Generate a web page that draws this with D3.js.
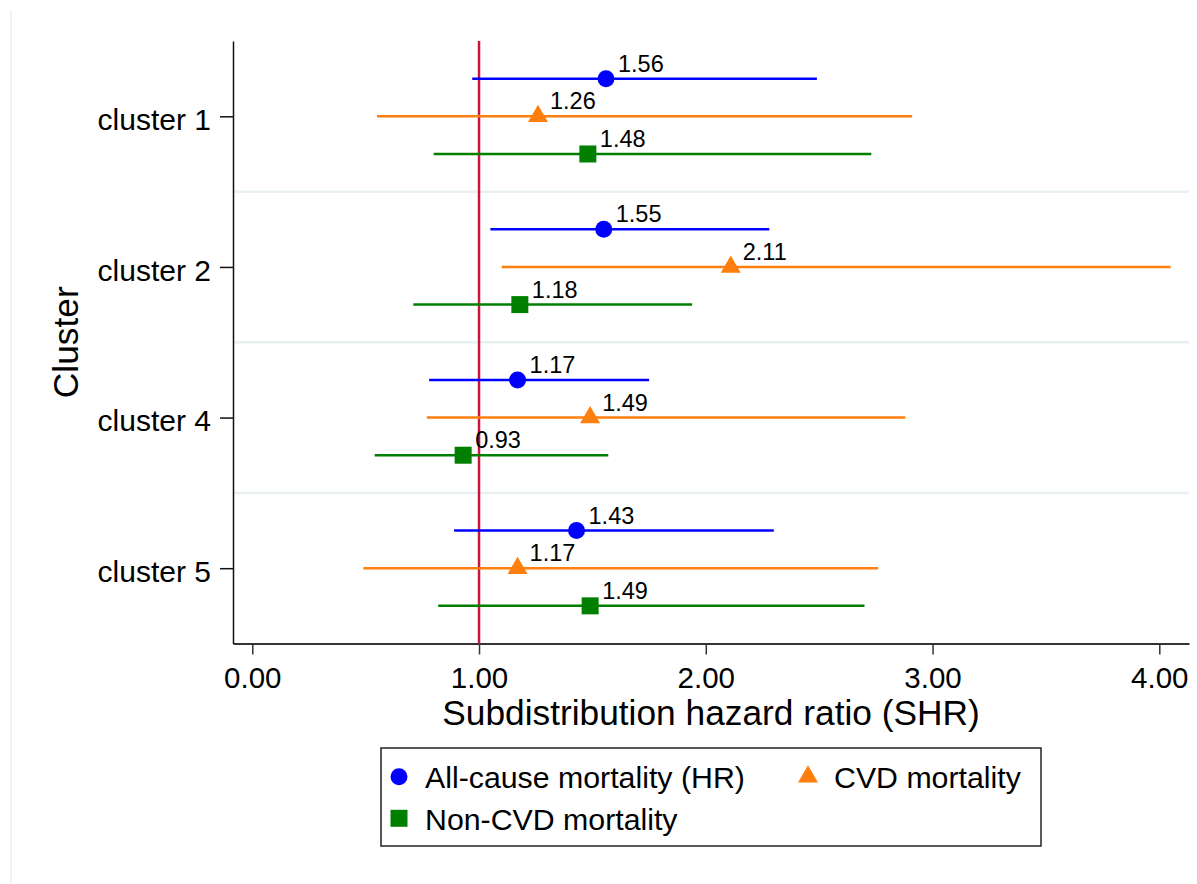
<!DOCTYPE html>
<html>
<head>
<meta charset="utf-8">
<script src="https://cdn.jsdelivr.net/npm/d3@7"></script>
<style>
  html, body { margin: 0; padding: 0; background: #fff; }
  svg { display: block; font-family: "Liberation Sans", Arial, sans-serif; }
</style>
</head>
<body>
<svg id="chart" width="1197" height="884"></svg>
<script>
// data
var clusters = ['cluster 1', 'cluster 2', 'cluster 4', 'cluster 5'];
var seriesNames = ['All-cause mortality (HR)', 'CVD mortality', 'Non-CVD mortality'];

var allCauseHR = [1.56, 1.55, 1.17, 1.43];
var allCauseLo = [0.97, 1.05, 0.78, 0.89];
var allCauseHi = [2.49, 2.28, 1.75, 2.30];

var cvdHR = [1.26, 2.11, 1.49, 1.17];
var cvdLo = [0.55, 1.10, 0.77, 0.49];
var cvdHi = [2.91, 4.05, 2.88, 2.76];

var nonCvdHR = [1.48, 1.18, 0.93, 1.49];
var nonCvdLo = [0.80, 0.71, 0.54, 0.82];
var nonCvdHi = [2.73, 1.94, 1.57, 2.70];

var xTicks = [0, 1, 2, 3, 4];
var refValue = 1;

// styles
var colors = ['#0000ff', '#ff7f0e', '#007f00'];
var symbols = [d3.symbolCircle, d3.symbolTriangle, d3.symbolSquare];
var symSizes = [227, 173, 289];

var series = [
  { name: seriesNames[0], hr: allCauseHR, lo: allCauseLo, hi: allCauseHi },
  { name: seriesNames[1], hr: cvdHR, lo: cvdLo, hi: cvdHi },
  { name: seriesNames[2], hr: nonCvdHR, lo: nonCvdLo, hi: nonCvdHi }
];

var rows = [];
clusters.forEach(function(c, ci) {
  series.forEach(function(s, si) {
    rows.push({ cluster: ci, s: si, hr: s.hr[ci], lo: s.lo[ci], hi: s.hi[ci], slot: ci * 4 + si + 1 });
  });
});

var plot = { left: 233, right: 1189, top: 41, bottom: 643.5 };

var x = d3.scaleLinear()
  .domain([-0.085, 4.131])
  .range([plot.left, plot.right]);

var y = d3.scaleLinear()
  .domain([0, clusters.length * 4])
  .range([plot.top, plot.bottom]);

var svg = d3.select('#chart');

// faint outer frame edge
svg.append('line')
  .attr('x1', 11).attr('x2', 11).attr('y1', 10).attr('y2', 884)
  .attr('stroke', '#eaf1f3').attr('stroke-width', 1.5);

// separators between clusters
svg.append('g').selectAll('line')
  .data(d3.range(1, clusters.length))
  .enter().append('line')
  .attr('x1', plot.left).attr('x2', plot.right)
  .attr('y1', function(d) { return y(d * 4); })
  .attr('y2', function(d) { return y(d * 4); })
  .attr('stroke', '#e9f0f2').attr('stroke-width', 2.5);

// x axis
var xAxis = d3.axisBottom(x)
  .tickValues(xTicks)
  .tickFormat(d3.format('.2f'))
  .tickSize(11)
  .tickSizeOuter(0)
  .tickPadding(13);

var gx = svg.append('g')
  .attr('transform', 'translate(0,' + plot.bottom + ')')
  .call(xAxis);
gx.select('.domain').attr('stroke', '#333').attr('stroke-width', 2);
gx.selectAll('.tick line').attr('stroke', '#333').attr('stroke-width', 1.5);
gx.selectAll('.tick text').attr('font-size', 29.5).attr('fill', '#000')
  .attr('font-family', '"Liberation Sans", Arial, sans-serif');

// y axis
var yAxis = d3.axisLeft(y)
  .tickValues(clusters.map(function(c, i) { return i * 4 + 2; }))
  .tickFormat(function(d, i) { return clusters[i]; })
  .tickSize(13)
  .tickSizeOuter(0)
  .tickPadding(9);

var gy = svg.append('g')
  .attr('transform', 'translate(' + plot.left + ',0)')
  .call(yAxis);
gy.select('.domain').attr('stroke', '#111').attr('stroke-width', 1.5);
gy.selectAll('.tick line').attr('stroke', '#111').attr('stroke-width', 1.5);
gy.selectAll('.tick text').attr('font-size', 30).attr('fill', '#000').attr('dy', '0.44em')
  .attr('font-family', '"Liberation Sans", Arial, sans-serif');

// reference line at HR = 1
svg.append('line')
  .attr('x1', x(refValue)).attr('x2', x(refValue))
  .attr('y1', plot.top).attr('y2', plot.bottom)
  .attr('stroke', '#c8173f').attr('stroke-width', 2.5);

// confidence intervals
svg.append('g').selectAll('line')
  .data(rows)
  .enter().append('line')
  .attr('x1', function(d) { return x(d.lo); })
  .attr('x2', function(d) { return x(d.hi); })
  .attr('y1', function(d) { return y(d.slot); })
  .attr('y2', function(d) { return y(d.slot); })
  .attr('stroke', function(d) { return colors[d.s]; })
  .attr('stroke-width', 2.5);

// point estimates
svg.append('g').selectAll('path')
  .data(rows)
  .enter().append('path')
  .attr('transform', function(d) { return 'translate(' + x(d.hr) + ',' + y(d.slot) + ')'; })
  .attr('d', function(d) { return d3.symbol().type(symbols[d.s]).size(symSizes[d.s])(); })
  .attr('fill', function(d) { return colors[d.s]; });

// value labels
svg.append('g').selectAll('text')
  .data(rows)
  .enter().append('text')
  .attr('x', function(d) { return x(d.hr) + 12; })
  .attr('y', function(d) { return y(d.slot) - 7; })
  .attr('font-size', 23.5)
  .attr('fill', '#000')
  .text(function(d) { return d.hr.toFixed(2); });

// axis titles
svg.append('text')
  .attr('x', (plot.left + plot.right) / 2)
  .attr('y', 725)
  .attr('text-anchor', 'middle')
  .attr('font-size', 35.3)
  .text('Subdistribution hazard ratio (SHR)');

svg.append('text')
  .attr('transform', 'translate(78,' + (plot.top + plot.bottom) / 2 + ') rotate(-90)')
  .attr('text-anchor', 'middle')
  .attr('font-size', 35.3)
  .text('Cluster');

// legend
var legend = svg.append('g');
legend.append('rect')
  .attr('x', 381).attr('y', 748).attr('width', 660).attr('height', 98)
  .attr('fill', '#fff').attr('stroke', '#222').attr('stroke-width', 1.5);

var legendPos = [[399, 776.7], [808, 776.7], [399, 818.3]];
var items = legend.selectAll('g.item')
  .data(seriesNames)
  .enter().append('g')
  .attr('class', 'item')
  .attr('transform', function(d, i) { return 'translate(' + legendPos[i][0] + ',' + legendPos[i][1] + ')'; });

items.append('path')
  .attr('d', function(d, i) { return d3.symbol().type(symbols[i]).size(symSizes[i])(); })
  .attr('fill', function(d, i) { return colors[i]; });

items.append('text')
  .attr('x', 26)
  .attr('y', 11.5)
  .attr('font-size', 30.3)
  .text(function(d) { return d; });
</script>
</body>
</html>
